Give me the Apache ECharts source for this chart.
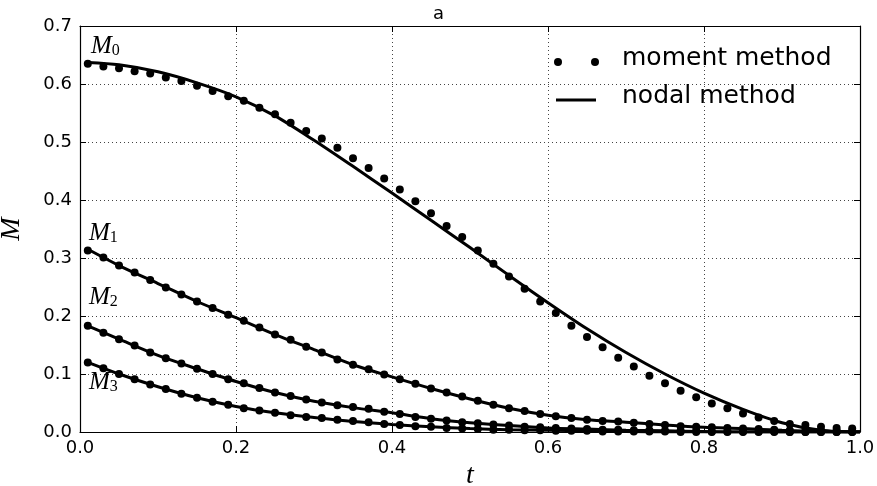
<!DOCTYPE html>
<html>
<head>
<meta charset="utf-8">
<script src="https://cdn.jsdelivr.net/npm/echarts@6/dist/echarts.min.js"></script>
<style>
  html, body { margin: 0; padding: 0; background: #fff; }
  #main { width: 877px; height: 486px; }
</style>
</head>
<body>
<div id="main"></div>
<script>
// moment method (dots), t = 0.01, 0.03, ... 0.99
var tDots = [0.01,0.03,0.05,0.07,0.09,0.11,0.13,0.15,0.17,0.19,0.21,0.23,0.25,0.27,0.29,0.31,0.33,0.35,0.37,0.39,
             0.41,0.43,0.45,0.47,0.49,0.51,0.53,0.55,0.57,0.59,0.61,0.63,0.65,0.67,0.69,0.71,0.73,0.75,0.77,0.79,
             0.81,0.83,0.85,0.87,0.89,0.91,0.93,0.95,0.97,0.99];
var m0Dots = [0.635,0.630,0.627,0.622,0.618,0.611,0.605,0.597,0.588,0.579,0.571,0.559,0.548,0.533,0.519,0.506,0.490,0.472,0.455,0.437,
              0.418,0.398,0.377,0.355,0.336,0.313,0.290,0.268,0.247,0.225,0.205,0.183,0.164,0.146,0.128,0.113,0.097,0.084,0.071,0.060,
              0.049,0.041,0.032,0.025,0.019,0.014,0.012,0.009,0.007,0.006];
var m1Dots = [0.313,0.301,0.287,0.275,0.262,0.249,0.237,0.225,0.214,0.202,0.192,0.180,0.168,0.159,0.147,0.137,0.125,0.116,0.108,0.099,
              0.091,0.083,0.075,0.068,0.061,0.054,0.047,0.041,0.036,0.031,0.027,0.024,0.021,0.019,0.018,0.016,0.014,0.012,0.010,0.009,
              0.008,0.007,0.006,0.005,0.004,0.003,0.003,0.002,0.002,0.001];
var m2Dots = [0.183,0.171,0.160,0.149,0.137,0.127,0.118,0.109,0.100,0.091,0.084,0.076,0.068,0.062,0.056,0.051,0.046,0.043,0.040,0.035,
              0.031,0.026,0.023,0.020,0.017,0.015,0.013,0.011,0.009,0.008,0.007,0.006,0.005,0.004,0.004,0.003,0.003,0.002,0.002,0.002,
              0.001,0.001,0.001,0.001,0.001,0.000,0.000,0.000,0.000,0.000];
var m3Dots = [0.120,0.110,0.100,0.091,0.082,0.074,0.066,0.059,0.052,0.047,0.041,0.037,0.033,0.029,0.026,0.024,0.021,0.019,0.017,0.014,
              0.012,0.010,0.009,0.007,0.006,0.005,0.004,0.004,0.003,0.003,0.002,0.002,0.002,0.001,0.001,0.001,0.001,0.001,0.000,0.000,
              0.000,0.000,0.000,0.000,0.000,0.000,0.000,0.000,0.000,0.000];

// nodal method (lines)
var tLine = [0.01,0.05,0.10,0.15,0.20,0.25,0.30,0.35,0.40,0.45,0.50,0.55,0.60,0.65,0.70,0.75,0.80,0.85,0.90,0.95,1.00];
var m0Line = [0.637,0.633,0.621,0.602,0.578,0.545,0.503,0.458,0.412,0.365,0.318,0.270,0.223,0.178,0.137,0.100,0.067,0.039,0.016,0.003,0.000];
var m1Line = [0.315,0.287,0.256,0.225,0.197,0.168,0.142,0.116,0.095,0.075,0.057,0.041,0.029,0.021,0.017,0.012,0.008,0.006,0.003,0.001,0.000];
var m2Line = [0.183,0.160,0.132,0.109,0.087,0.068,0.053,0.042,0.033,0.023,0.016,0.011,0.007,0.005,0.003,0.002,0.001,0.000,0.000,0.000,0.000];
var m3Line = [0.120,0.100,0.078,0.059,0.044,0.033,0.025,0.018,0.013,0.009,0.006,0.004,0.003,0.002,0.001,0.000,0.000,0.000,0.000,0.000,0.000];

var xTicks = ['0.0','0.2','0.4','0.6','0.8','1.0'];
var yTicks = ['0.0','0.1','0.2','0.3','0.4','0.5','0.6','0.7'];

function zip(xs, ys) {
  return xs.map(function (x, i) { return [x, ys[i]]; });
}

var chart = echarts.init(document.getElementById('main'));

var gridLine = { show: true, lineStyle: { color: '#444', width: 1, type: [1, 3] } };
var frame = { show: true, onZero: false, lineStyle: { color: '#000', width: 1.2 } };
var tick = { show: true, inside: true, length: 6, lineStyle: { color: '#000' } };
var tickFont = { fontFamily: 'DejaVu Sans', fontSize: 18, color: '#000' };

var lineOpts = function (name, data) {
  return {
    name: name, type: 'line', data: data, smooth: 0.3, showSymbol: false,
    lineStyle: { color: '#000', width: 3 }, z: 3, silent: true
  };
};
var dotOpts = function (name, data) {
  return {
    name: name, type: 'scatter', data: data, symbolSize: 8,
    itemStyle: { color: '#000', opacity: 1 }, z: 4, silent: true
  };
};

var subRich = {
  m: { fontFamily: 'Liberation Serif', fontStyle: 'italic', fontSize: 25, color: '#000' },
  s: { fontFamily: 'Liberation Serif', fontSize: 16, color: '#000', padding: [8, 0, 0, 0] }
};
function mLabel(n, x, y) {
  return {
    type: 'text', left: x, top: y, z: 10,
    style: { text: '{m|M}{s|' + n + '}', rich: subRich }
  };
}

chart.setOption({
  animation: false,
  title: {
    text: 'a', left: 'center', top: 0,
    textStyle: { fontFamily: 'DejaVu Sans', fontSize: 18, fontWeight: 'normal', color: '#000' }
  },
  grid: { left: 80, right: 17, top: 26, bottom: 54, outerBoundsMode: 'none', containLabel: false },
  xAxis: [{
    type: 'value', min: 0, max: 1, interval: 0.2,
    name: 't', nameLocation: 'middle', nameGap: 22,
    nameTextStyle: { fontFamily: 'Liberation Serif', fontStyle: 'italic', fontSize: 28, color: '#000' },
    axisLine: frame, axisTick: tick, splitLine: gridLine,
    axisLabel: Object.assign({ margin: 7, formatter: function (v) { return xTicks[Math.round(v / 0.2)]; } }, tickFont)
  }, {
    type: 'value', min: 0, max: 1, interval: 0.2, position: 'top',
    axisLine: frame, axisTick: tick, splitLine: { show: false }, axisLabel: { show: false }
  }],
  yAxis: [{
    type: 'value', min: 0, max: 0.7, interval: 0.1,
    name: 'M', nameLocation: 'middle', nameGap: 54,
    nameTextStyle: { fontFamily: 'Liberation Serif', fontStyle: 'italic', fontSize: 28, color: '#000' },
    axisLine: frame, axisTick: tick, splitLine: gridLine,
    axisLabel: Object.assign({ margin: 8, formatter: function (v) { return yTicks[Math.round(v / 0.1)]; } }, tickFont)
  }, {
    type: 'value', min: 0, max: 0.7, interval: 0.1, position: 'right',
    axisLine: frame, axisTick: tick, splitLine: { show: false }, axisLabel: { show: false }
  }],
  series: [
    lineOpts('nodal method', zip(tLine, m0Line)),
    lineOpts('nodal method', zip(tLine, m1Line)),
    lineOpts('nodal method', zip(tLine, m2Line)),
    lineOpts('nodal method', zip(tLine, m3Line)),
    dotOpts('moment method', zip(tDots, m0Dots)),
    dotOpts('moment method', zip(tDots, m1Dots)),
    dotOpts('moment method', zip(tDots, m2Dots)),
    dotOpts('moment method', zip(tDots, m3Dots))
  ],
  graphic: [
    // legend
    { type: 'circle', shape: { cx: 558, cy: 62, r: 4 }, style: { fill: '#000' }, z: 10 },
    { type: 'circle', shape: { cx: 595, cy: 62, r: 4 }, style: { fill: '#000' }, z: 10 },
    { type: 'text', left: 622, top: 46, z: 10,
      style: { text: 'moment method', fontFamily: 'DejaVu Sans', fontSize: 25, fill: '#000' } },
    { type: 'line', shape: { x1: 556, y1: 100, x2: 596, y2: 100 }, style: { stroke: '#000', lineWidth: 3 }, z: 10 },
    { type: 'text', left: 622, top: 84, z: 10,
      style: { text: 'nodal method', fontFamily: 'DejaVu Sans', fontSize: 25, fill: '#000' } },
    // curve labels
    mLabel(0, 91, 34),
    mLabel(1, 89, 221),
    mLabel(2, 89, 285),
    mLabel(3, 89, 370)
  ]
});
</script>
</body>
</html>
